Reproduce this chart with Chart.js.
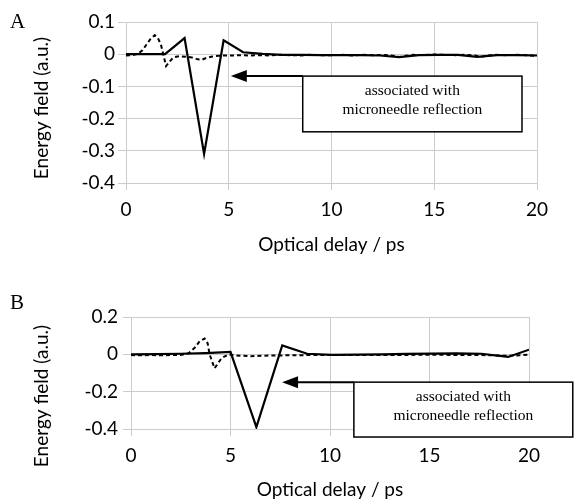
<!DOCTYPE html>
<html>
<head>
<meta charset="utf-8">
<script src="https://cdn.jsdelivr.net/npm/chart.js@4/dist/chart.umd.min.js"></script>
<style>
  html, body { margin: 0; padding: 0; background: #fff; }
  body { width: 574px; height: 502px; position: relative; overflow: hidden; }
  .panel { position: absolute; left: 0; width: 574px; }
  #wrapA { top: 0; height: 258px; }
  #wrapB { top: 262px; height: 240px; }
</style>
</head>
<body>
<div class="panel" id="wrapA"><canvas id="chartA"></canvas></div>
<div class="panel" id="wrapB"><canvas id="chartB"></canvas></div>
<script>
// Panel A: reference (dashed) vs microneedle (solid) signal
const aSolidX = [0, 0.95, 1.9, 2.85, 3.8, 4.75, 5.7, 6.65, 7.6, 8.55, 9.5, 10.45, 11.4, 12.35, 13.3, 14.25, 15.2, 16.15, 17.1, 18.05, 19.0, 20];
const aSolidY = [0, 0, 0, 0.05, -0.31, 0.043, 0.006, 0.001, -0.002, -0.002, -0.003, -0.003, -0.003, -0.004, -0.009, -0.003, -0.002, -0.002, -0.008, -0.003, -0.003, -0.004];
const aDashX = [0, 0.3, 0.6, 0.8, 1.0, 1.2, 1.4, 1.55, 1.7, 1.85, 1.95, 2.1, 2.3, 2.6, 2.9, 3.2, 3.5, 3.7, 3.9, 4.2, 4.5, 4.8, 5.2, 5.6, 6.0, 6.5, 7, 7.5, 8, 8.5, 9, 9.5, 10, 10.5, 11, 11.5, 12, 12.5, 13, 13.3, 13.6, 14, 14.5, 15, 15.5, 16, 16.5, 17, 17.3, 17.6, 18, 18.5, 19, 19.5, 20];
const aDashY = [-0.004, -0.003, 0.002, 0.012, 0.03, 0.048, 0.059, 0.05, 0.03, -0.01, -0.037, -0.025, -0.01, -0.006, -0.008, -0.01, -0.016, -0.017, -0.012, -0.007, -0.005, -0.004, -0.004, -0.003, -0.004, -0.003, -0.004, -0.002, -0.003, -0.004, -0.002, -0.003, -0.003, -0.002, -0.004, -0.002, -0.003, -0.002, -0.005, -0.009, -0.005, -0.002, -0.003, -0.001, -0.002, -0.003, -0.002, -0.004, -0.008, -0.004, -0.002, -0.003, -0.002, -0.003, -0.005];

// Panel B
const bSolidX = [0, 1.25, 2.5, 3.75, 5.0, 6.3, 7.6, 8.85, 10.1, 11.35, 12.6, 13.85, 15.1, 16.35, 17.6, 18.95, 20];
const bSolidY = [0, 0.001, 0.003, 0.007, 0.013, -0.39, 0.048, 0.003, -0.003, -0.002, 0.0, 0.002, 0.004, 0.005, 0.003, -0.014, 0.025];
const bDashX = [0, 0.5, 1, 1.5, 2, 2.5, 2.9, 3.2, 3.45, 3.7, 3.85, 3.95, 4.2, 4.55, 4.9, 5.2, 5.6, 6, 6.5, 7, 7.5, 8, 9, 10, 11, 12, 13, 14, 15, 16, 17, 18, 19, 20];
const bDashY = [-0.004, -0.005, -0.004, -0.005, -0.004, -0.003, 0.006, 0.035, 0.07, 0.085, 0.06, 0.0, -0.075, -0.02, 0.0, -0.006, -0.008, -0.01, -0.008, -0.006, -0.006, -0.005, -0.004, -0.004, -0.003, -0.003, -0.003, -0.003, -0.002, -0.003, -0.003, -0.005, -0.008, -0.002];

const xTicks = [0, 5, 10, 15, 20];
const xTitle = "Optical delay / ps";
const yTitle = "Energy field (a.u.)";
const noteLines = ["associated with", "microneedle reflection"];

const GRID = "#cccccc";
const TICK_FONT = { family: "Lato", size: 19 };

function pts(xs, ys) {
  return xs.map((x, i) => ({ x, y: ys[i] }));
}

// draws the panel letter, the y title and the arrow + text box
const notePlugin = {
  id: "note",
  afterDraw(chart, args, o) {
    const { ctx, scales: { x, y } } = chart;
    ctx.save();
    // panel letter
    ctx.fillStyle = "#000";
    ctx.font = "21px 'Liberation Serif'";
    ctx.textAlign = "left";
    ctx.textBaseline = "alphabetic";
    ctx.fillText(o.letter, 10, o.letterY);

    // rotated y title
    ctx.save();
    ctx.translate(42, o.yTitleY);
    ctx.rotate(-Math.PI / 2);
    ctx.font = "19px Lato";
    ctx.textAlign = "center";
    ctx.textBaseline = "middle";
    ctx.fillText(yTitle, 0, 0);
    ctx.restore();

    // text box
    const l = x.getPixelForValue(o.box[0]), r = x.getPixelForValue(o.box[1]);
    const t = y.getPixelForValue(o.box[2]), b = y.getPixelForValue(o.box[3]);
    ctx.fillStyle = "#fff";
    ctx.fillRect(l, t, r - l, b - t);
    ctx.strokeStyle = "#000";
    ctx.lineWidth = 1.5;
    ctx.strokeRect(l, t, r - l, b - t);
    ctx.fillStyle = "#000";
    ctx.font = "15.5px 'Liberation Serif'";
    ctx.textAlign = "center";
    const cx = (l + r) / 2, cy = (t + b) / 2;
    ctx.fillText(noteLines[0], cx, cy - 9);
    ctx.fillText(noteLines[1], cx, cy + 10);

    // arrow
    const tip = x.getPixelForValue(o.arrowTo);
    ctx.lineWidth = 2;
    ctx.beginPath();
    ctx.moveTo(l, t);
    ctx.lineTo(tip + 14, t);
    ctx.stroke();
    ctx.beginPath();
    ctx.moveTo(tip, t);
    ctx.lineTo(tip + 16, t - 6);
    ctx.lineTo(tip + 16, t + 6);
    ctx.closePath();
    ctx.fill();
    ctx.restore();
  }
};

function makeChart(id, cfg) {
  return new Chart(document.getElementById(id), {
    type: "line",
    data: {
      datasets: [
        { data: pts(cfg.dashX, cfg.dashY), borderColor: "#000", borderWidth: 2, borderDash: [4, 3], pointRadius: 0, tension: 0 },
        { data: pts(cfg.solidX, cfg.solidY), borderColor: "#000", borderWidth: 2.2, pointRadius: 0, tension: 0 }
      ]
    },
    options: {
      responsive: true,
      maintainAspectRatio: false,
      animation: false,
      layout: { padding: { left: 0, right: cfg.padRight, top: cfg.padTop, bottom: 0 } },
      plugins: {
        legend: { display: false },
        tooltip: { enabled: false },
        note: cfg.note
      },
      scales: {
        x: {
          type: "linear",
          min: 0, max: 20,
          afterBuildTicks: s => { s.ticks = xTicks.map(v => ({ value: v })); },
          afterFit: s => { s.height = cfg.xHeight; },
          grid: { color: GRID, tickLength: 7 },
          border: { color: GRID },
          ticks: { color: "#000", font: TICK_FONT, padding: 8, maxRotation: 0 },
          title: { display: true, text: xTitle, color: "#000", font: { family: "Lato", size: 19 }, padding: { top: 0, bottom: cfg.xTitlePad } }
        },
        y: {
          min: cfg.yMin, max: cfg.yMax,
          afterBuildTicks: s => { s.ticks = cfg.yTicks.map(v => ({ value: v })); },
          afterFit: s => { s.width = cfg.yWidth; },
          grid: { color: GRID, tickLength: 8 },
          border: { color: GRID },
          ticks: { color: "#000", font: TICK_FONT, padding: cfg.yTickPad, callback: v => String(Math.round(v * 10) / 10) }
        }
      }
    },
    plugins: [notePlugin]
  });
}

makeChart("chartA", {
  solidX: aSolidX, solidY: aSolidY, dashX: aDashX, dashY: aDashY,
  yMin: -0.4, yMax: 0.1, yTicks: [-0.4, -0.3, -0.2, -0.1, 0, 0.1],
  padRight: 37, padTop: 22, xHeight: 75, yWidth: 126, yTickPad: 3, xTitlePad: 2,
  note: { letter: "A", letterY: 28, yTitleY: 108, box: [8.6, 19.27, -0.068, -0.241], arrowTo: 5.1 }
});

makeChart("chartB", {
  solidX: bSolidX, solidY: bSolidY, dashX: bDashX, dashY: bDashY,
  yMin: -0.4, yMax: 0.2, yTicks: [-0.4, -0.2, 0, 0.2],
  padRight: 45, padTop: 55, xHeight: 73, yWidth: 131, yTickPad: 5, xTitlePad: 1,
  note: { letter: "B", letterY: 47, yTitleY: 134, box: [11.2, 22.2, -0.149, -0.443], arrowTo: 7.59 }
});
</script>
</body>
</html>
